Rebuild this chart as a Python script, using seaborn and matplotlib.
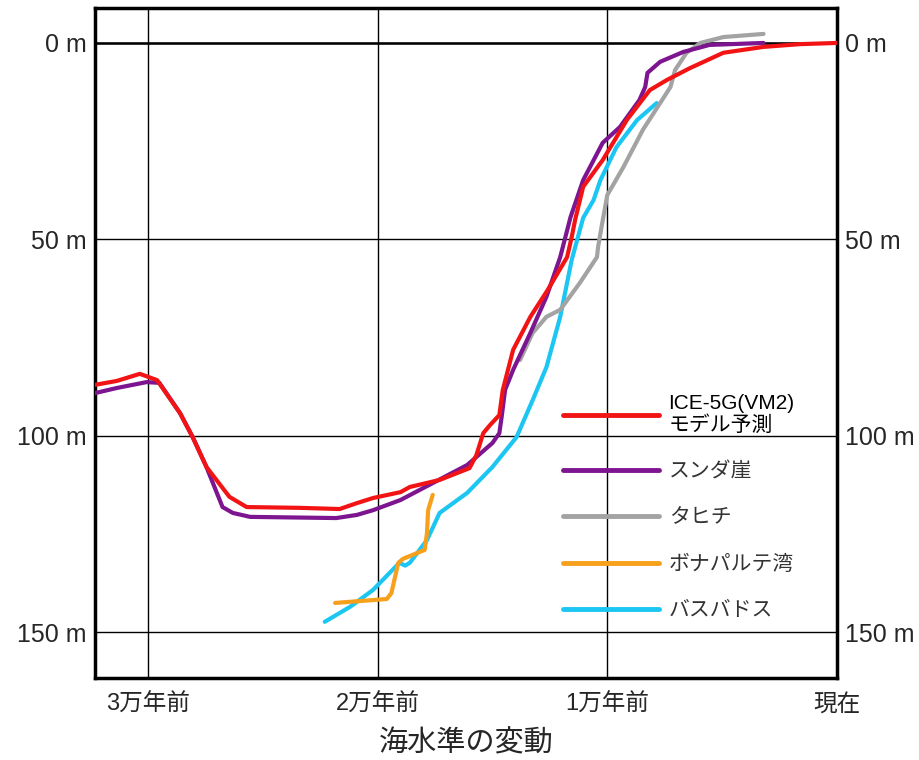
import pandas as pd
import numpy as np
import seaborn as sns
import matplotlib.pyplot as plt

# 海水準の変動 (age in thousand years ago, depth below present sea level in m)
ice5g_age = [32.3, 31.35, 30.35, 29.6, 28.6, 28.05, 27.45, 26.45, 25.7, 23.4, 21.65, 20.9, 20.2,
             19.0, 18.6, 17.3, 16.0, 15.7, 15.4, 15.1, 14.7, 14.55, 14.1, 13.35, 12.6, 11.75,
             11.55, 11.4, 11.05, 10.2, 9.15, 8.15, 7.4, 6.4, 4.95, 3.2, 1.6, 0.0]
ice5g_depth = [87.0, 86.0, 84.2, 85.8, 94.2, 100.3, 107.9, 115.5, 118.1, 118.3, 118.6, 117.1, 115.8,
               114.3, 113.0, 111.2, 108.2, 104.9, 99.3, 97.2, 94.7, 88.3, 78.1, 69.7, 62.9, 54.5,
               49.4, 45.0, 36.6, 29.8, 19.6, 12.0, 9.4, 6.4, 2.5, 1.0, 0.3, 0.0]

sunda_age = [32.3, 31.35, 30.05, 29.5, 28.6, 28.05, 27.45, 26.75, 26.3, 25.55, 21.8, 20.9, 20.2,
             19.0, 17.6, 16.1, 15.0, 14.7, 14.6, 14.45, 14.1, 13.35, 12.65, 12.05, 11.6, 11.05,
             10.2, 9.45, 8.6, 8.35, 8.25, 7.7, 6.7, 5.55, 3.2]
sunda_depth = [89.1, 87.8, 86.3, 86.5, 94.2, 100.3, 107.9, 118.1, 119.6, 120.6, 120.9, 120.1, 118.9,
               116.3, 112.0, 107.4, 101.8, 99.3, 95.2, 88.3, 83.2, 73.8, 64.6, 54.5, 44.3, 34.9,
               25.4, 21.4, 14.5, 11.2, 7.6, 4.8, 2.3, 0.5, 0.0]

tahiti_age = [13.8, 13.25, 12.65, 12.05, 11.2, 10.45, 10.4, 10.25, 10.0, 9.3, 8.45, 7.7, 7.25,
              7.05, 6.55, 5.95, 4.95, 3.2]
tahiti_depth = [80.7, 73.8, 69.7, 67.9, 61.1, 54.5, 51.9, 46.8, 38.7, 31.6, 22.1, 15.3, 11.2,
                6.9, 2.5, 0.0, -1.5, -2.3]

bonaparte_age = [21.85, 19.6, 19.4, 19.1, 18.9, 17.95, 17.85, 17.8, 17.6]
bonaparte_depth = [142.5, 141.5, 140.0, 132.3, 131.3, 129.0, 124.7, 118.9, 115.0]

barbados_age = [22.3, 21.2, 20.2, 19.05, 18.8, 18.6, 17.85, 17.3, 16.1, 15.0, 13.95, 13.25, 12.65,
                12.05, 11.55, 11.05, 10.6, 10.3, 9.6, 8.7, 7.85]
barbados_depth = [147.3, 143.5, 139.2, 132.3, 133.0, 132.3, 126.5, 119.6, 114.5, 107.9, 100.3, 90.9, 82.5,
                  69.7, 55.2, 44.5, 40.0, 34.9, 26.5, 19.6, 15.3]

series = ['ICE-5G(VM2)\nモデル予測', 'スンダ崖', 'タヒチ', 'ボナパルテ湾', 'バスバドス']
colors = ['#f21414', '#7d1590', '#a3a3a3', '#f7a01c', '#1cc6f2']

x_ticks = [30, 20, 10, 0]
x_labels = ['3万年前', '2万年前', '1万年前', '現在']
y_ticks = [0, 50, 100, 150]
y_labels = ['0 m', '50 m', '100 m', '150 m']

frames = []
for name, a, d in zip(series,
                      [ice5g_age, sunda_age, tahiti_age, bonaparte_age, barbados_age],
                      [ice5g_depth, sunda_depth, tahiti_depth, bonaparte_depth, barbados_depth]):
    frames.append(pd.DataFrame({'age': a, 'depth': d, 'series': name}))
df = pd.concat(frames, ignore_index=True)

sns.set_style('white')
plt.rcParams['font.family'] = ['Liberation Sans', 'Noto Sans CJK JP', 'DejaVu Sans']

fig = plt.figure(figsize=(9.2, 7.6), dpi=100)
ax = fig.add_axes([0.1033, 0.1079, 0.8065, 0.8816])

# draw back to front
for name in ['バスバドス', 'ボナパルテ湾', 'タヒチ', 'スンダ崖', 'ICE-5G(VM2)\nモデル予測']:
    sub = df[df['series'] == name]
    sns.lineplot(data=sub, x='age', y='depth', sort=False, estimator=None,
                 color=colors[series.index(name)], lw=3, ax=ax, legend=False, zorder=3)

ax.set_xlim(32.3, 0)
ax.set_ylim(161.6, -8.9)
ax.set_xticks(x_ticks)
ax.set_xticklabels(x_labels, fontsize=17)
ax.set_yticks(y_ticks)
ax.set_yticklabels(y_labels, fontsize=18)
ax.tick_params(axis='y', labelright=True, right=False, length=0, pad=6)
ax.tick_params(axis='x', length=0, pad=11)
ax.grid(True, color='black', lw=1)
ax.axhline(0, color='black', lw=1.8, zorder=2)
for s in ax.spines.values():
    s.set_color('black')
    s.set_linewidth(2.5)
ax.set_xlabel('海水準の変動', fontsize=21, labelpad=10)
ax.set_ylabel('')

handles = [plt.Line2D([], [], color=c, lw=3.5) for c in colors]
leg = ax.legend(handles, series, loc='upper left', bbox_to_anchor=(0.62, 0.437),
                frameon=False, fontsize=15, handlelength=4.6, handletextpad=0.45,
                labelspacing=1.3, borderaxespad=0)
for t in leg.get_texts():
    t.set_color('#333333')
leg.get_texts()[0].set_color('black')

fig.savefig('out.png', dpi=100)
